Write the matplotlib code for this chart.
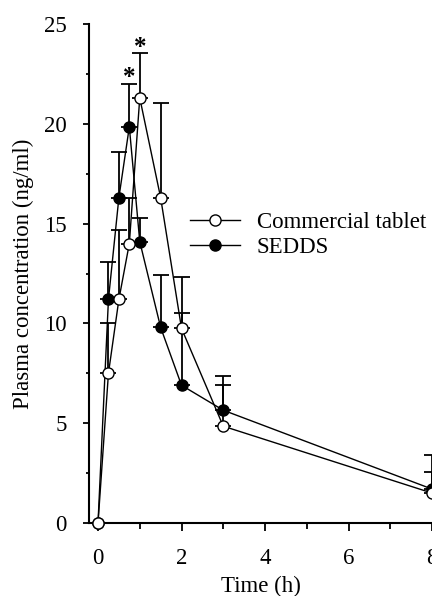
import numpy as np
import matplotlib
matplotlib.use("Agg")
import matplotlib.pyplot as plt
from matplotlib.ticker import MultipleLocator

# time points (h)
time_h = [0, 0.25, 0.5, 0.75, 1, 1.5, 2, 3, 8]

# commercial tablet: mean and upper SD
tablet_mean = [0, 7.5, 11.2, 14.0, 21.3, 16.3, 9.75, 4.85, 1.5]
tablet_sd = [0, 2.5, 3.5, 2.3, 2.25, 4.75, 2.55, 2.05, 1.05]

# SEDDS: mean and upper SD
sedds_mean = [0, 11.2, 16.3, 19.85, 14.1, 9.8, 6.9, 5.65, 1.7]
sedds_sd = [0, 1.9, 2.3, 2.15, 1.2, 2.65, 3.6, 1.7, 1.7]

# significant points (time, top of the error bar carrying the star)
star_times = [0.75, 1]
star_tops = [22.0, 23.55]

plt.rcParams["font.family"] = ["Liberation Serif", "DejaVu Serif"]
plt.rcParams["font.size"] = 16.5

fig = plt.figure(figsize=(4.32, 5.96), dpi=100)
ax = fig.add_axes([0.206, 0.1225, 0.794, 0.8372])

zeros = np.zeros(len(time_h))
ax.errorbar(time_h, tablet_mean, yerr=[zeros, tablet_sd], fmt="none",
            ecolor="black", elinewidth=1.3, capsize=5.5, capthick=1.3, zorder=2)
ax.errorbar(time_h, sedds_mean, yerr=[zeros, sedds_sd], fmt="none",
            ecolor="black", elinewidth=1.3, capsize=5.5, capthick=1.3, zorder=2)

l_tab, = ax.plot(time_h, tablet_mean, color="black", lw=1.0, marker="o",
                 markersize=8, markerfacecolor="white", markeredgecolor="black",
                 markeredgewidth=1.0, label="Commercial tablet", zorder=4,
                 clip_on=False)
l_sed, = ax.plot(time_h, sedds_mean, color="black", lw=1.0, marker="o",
                 markersize=8, markerfacecolor="black", markeredgecolor="black",
                 label="SEDDS", zorder=3, clip_on=False)

for t, top in zip(star_times, star_tops):
    ax.annotate("*", xy=(t, top), xytext=(0, -4), textcoords="offset points",
                ha="center", va="bottom", fontsize=18, fontweight="bold")

ax.set_xlim(-0.216, 8.0)
ax.set_ylim(0, 25)
ax.xaxis.set_major_locator(MultipleLocator(2))
ax.xaxis.set_minor_locator(MultipleLocator(1))
ax.yaxis.set_major_locator(MultipleLocator(5))
ax.yaxis.set_minor_locator(MultipleLocator(2.5))
ax.tick_params(axis="x", which="major", length=6, width=1.3, pad=12)
ax.tick_params(axis="x", which="minor", length=4, width=1.3)
ax.tick_params(axis="y", which="major", length=4, width=1.3, pad=12)
ax.tick_params(axis="y", which="minor", length=2, width=1.3)

for side in ["top", "right"]:
    ax.spines[side].set_visible(False)
for side in ["left", "bottom"]:
    ax.spines[side].set_linewidth(1.5)

ax.set_xlabel("Time (h)", labelpad=5)
ax.set_ylabel("Plasma concentration (ng/ml)", labelpad=7.5)

fig.legend(handles=[l_tab, l_sed], loc="upper left",
           bbox_to_anchor=(0.44, 0.645), frameon=False, borderpad=0,
           borderaxespad=0, handlelength=2.2, handletextpad=0.72,
           labelspacing=0.2, fontsize=16.5)

fig.savefig("out.png", dpi=100)
